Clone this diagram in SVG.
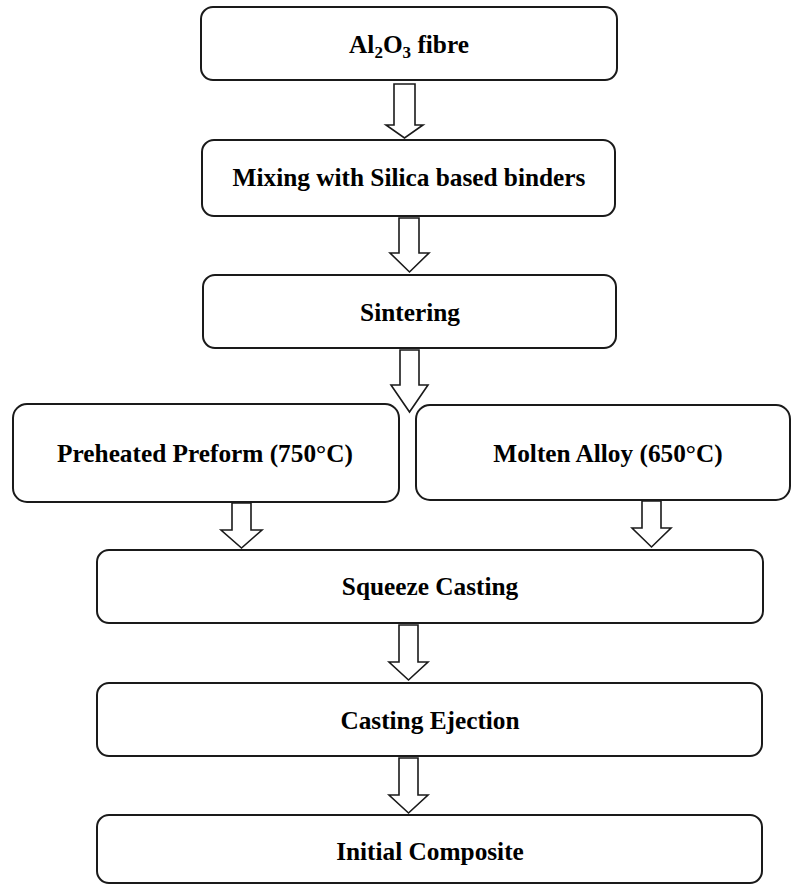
<svg xmlns="http://www.w3.org/2000/svg" width="791" height="886" viewBox="0 0 791 886">
<style>
.box{fill:#fff;stroke:#1a1a1a;stroke-width:2}
.arr{fill:#fff;stroke:#1a1a1a;stroke-width:1.6;stroke-linejoin:miter}
.t{font-family:"Liberation Serif","Times New Roman",serif;font-weight:bold;font-size:25.3px;fill:#000;text-anchor:middle}
</style>
<rect width="791" height="886" fill="#fff"/>
<g id="connectors">
<path class="arr" d="M394,84 V125 H386 L404.5,138 L423,125 H415 V84 Z"/>
<path class="arr" d="M399,218 V253 H390 L409.5,272 L429,253 H419 V218 Z"/>
<path class="arr" d="M400,350 V385 H391 L409.5,412 L428,385 H419 V350 Z"/>
<path class="arr" d="M232,503 V530 H221 L241.5,548 L262,530 H251 V503 Z"/>
<path class="arr" d="M642,501 V528 H632 L651.5,547 L671,528 H661 V501 Z"/>
<path class="arr" d="M399,625 V662 H389 L408.5,680 L428,662 H418 V625 Z"/>
<path class="arr" d="M399,758 V795 H389 L408.5,813 L428,795 H418 V758 Z"/>
</g>
<g id="n1">
<rect class="box" x="201" y="7" width="416" height="73" rx="12"/>
<text class="t" x="409" y="53">Al<tspan font-size="17" dy="5">2</tspan><tspan dy="-5">O</tspan><tspan font-size="17" dy="5">3</tspan><tspan dy="-5"> fibre</tspan></text>
</g>
<g id="n2">
<rect class="box" x="202" y="140" width="413" height="76" rx="12"/>
<text class="t" x="409" y="186">Mixing with Silica based binders</text>
</g>
<g id="n3">
<rect class="box" x="203" y="275" width="413" height="73" rx="12"/>
<text class="t" x="410" y="321">Sintering</text>
</g>
<g id="n4">
<rect class="box" x="13" y="404" width="386" height="98" rx="14"/>
<text class="t" x="205" y="462">Preheated Preform (750°C)</text>
</g>
<g id="n5">
<rect class="box" x="416" y="405" width="374" height="95" rx="14"/>
<text class="t" x="608" y="462">Molten Alloy (650°C)</text>
</g>
<g id="n6">
<rect class="box" x="97" y="550" width="666" height="73" rx="12"/>
<text class="t" x="430" y="595">Squeeze Casting</text>
</g>
<g id="n7">
<rect class="box" x="97" y="683" width="665" height="73" rx="12"/>
<text class="t" x="430" y="729">Casting Ejection</text>
</g>
<g id="n8">
<rect class="box" x="97" y="815" width="665" height="68" rx="12"/>
<text class="t" x="430" y="860">Initial Composite</text>
</g>
</svg>
